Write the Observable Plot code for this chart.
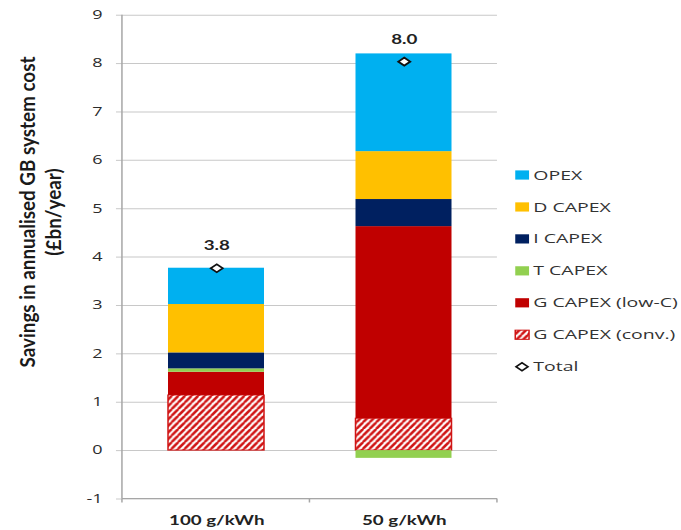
<!DOCTYPE html>
<html>
<head>
<meta charset="utf-8">
<script src="https://cdn.jsdelivr.net/npm/d3@7"></script>
<script src="https://cdn.jsdelivr.net/npm/@observablehq/plot@0.6"></script>
<style>
  html, body { margin: 0; padding: 0; background: #fff; }
  #chart svg { display: block; }
</style>
</head>
<body>
<div id="chart"></div>
<script>
// Scenarios (carbon intensity targets) on the x axis
const scenarios = ["100 g/kWh", "50 g/kWh"];

// Cost components, bottom of the stack first
const components = ["G CAPEX (conv.)", "G CAPEX (low-C)", "T CAPEX", "I CAPEX", "D CAPEX", "OPEX"];

// Annualised savings per component (£bn/year), one value per scenario
const gCapexConv = [1.14, 0.66];
const gCapexLowC = [0.48, 3.97];
const tCapex = [0.07, -0.16];
const iCapex = [0.33, 0.56];
const dCapex = [1.00, 0.99];
const opex = [0.75, 2.02];

// Y axis ticks
const yTicks = [-1, 0, 1, 2, 3, 4, 5, 6, 7, 8, 9];

// Legend entries, top to bottom
const legendLabels = ["OPEX", "D CAPEX", "I CAPEX", "T CAPEX", "G CAPEX (low-C)", "G CAPEX (conv.)", "Total"];

const seriesValues = [gCapexConv, gCapexLowC, tCapex, iCapex, dCapex, opex];
const hatchRed = "#d01515";
const fills = {
  "G CAPEX (conv.)": "url(#hatch-conv)",
  "G CAPEX (low-C)": "#C00000",
  "T CAPEX": "#92D050",
  "I CAPEX": "#002060",
  "D CAPEX": "#FFC000",
  "OPEX": "#00B0F0"
};

const data = scenarios.flatMap((scenario, i) =>
  components.map((component, j) => ({scenario, component, value: seriesValues[j][i]}))
);
const totals = scenarios.map((scenario, i) => ({
  scenario,
  total: d3.sum(seriesValues, s => s[i])
}));

// The chart is laid out on a narrower canvas and stretched sideways to the page width.
const pageWidth = 681, pageHeight = 530, stretch = 1.5;
const width = pageWidth / stretch, height = pageHeight;

const gridColor = "#c8c8c8";
const axisColor = "#a6a6a6";

// Diagonal hatch pattern for the conventional generation bar
function hatchDefs() {
  const w = 4.4, h = 6.6;
  const defs = d3.create("svg:defs");
  const p = defs.append("pattern")
    .attr("id", "hatch-conv")
    .attr("patternUnits", "userSpaceOnUse")
    .attr("width", w)
    .attr("height", h);
  p.append("rect").attr("width", w).attr("height", h).attr("fill", "#fff");
  p.append("path")
    .attr("d", `M${-w},${h}L0,0M0,${h}L${w},0M${w},${h}L${2 * w},0`)
    .attr("stroke", hatchRed)
    .attr("stroke-width", 2);
  return defs.node();
}

// Left axis line plus the category-boundary ticks under the bottom axis
function frameLines(index, scales, values, dims) {
  const left = dims.marginLeft, right = dims.width - dims.marginRight;
  const top = dims.marginTop, bottom = dims.height - dims.marginBottom;
  const g = d3.create("svg:g").attr("stroke", axisColor).attr("fill", "none");
  g.append("line").attr("x1", left).attr("x2", left).attr("y1", top).attr("y2", bottom);
  g.append("line").attr("x1", left).attr("x2", right).attr("y1", bottom).attr("y2", bottom);
  for (const x of [left, (left + right) / 2, right]) {
    g.append("line").attr("x1", x).attr("x2", x).attr("y1", bottom).attr("y2", bottom + 4);
  }
  return g.node();
}

const chart = Plot.plot({
  width,
  height,
  marginLeft: 81.3,
  marginRight: 122.7,
  marginTop: 14.7,
  marginBottom: 31.5,
  style: {fontFamily: "'Open Sans', sans-serif", background: "#fff"},
  x: {domain: scenarios, paddingInner: 0.49, paddingOuter: 0.245, label: null},
  y: {domain: [-1, 9], label: null},
  color: {type: "identity"},
  marks: [
    hatchDefs,
    Plot.ruleY(yTicks, {stroke: gridColor}),
    Plot.axisY({
      ticks: yTicks,
      tickFormat: d => String(d),
      tickSize: 4,
      tickPadding: 9.5,
      stroke: gridColor,
      fill: "#2b2b2b",
      fontSize: 12,
      label: null
    }),
    frameLines,
    Plot.barY(data, {
      x: "scenario",
      y: "value",
      fill: d => fills[d.component],
      stroke: d => d.component === "G CAPEX (conv.)" ? hatchRed : "none",
      strokeWidth: 1
    }),
    Plot.dot(totals, {
      x: "scenario",
      y: "total",
      symbol: "diamond2",
      r: 3.6,
      fill: "#fff",
      stroke: "#111",
      strokeWidth: 1.5
    }),
    Plot.text(totals, {
      x: "scenario",
      y: "total",
      text: d => d.total.toFixed(1),
      dy: -22,
      fontSize: 12.5,
      fontWeight: "bold",
      fontFamily: "Lato, sans-serif",
      fill: "#222"
    }),
    Plot.axisX({
      tickSize: 0,
      tickPadding: 17,
      fontSize: 12.5,
      fontWeight: "bold",
      fontFamily: "Lato, sans-serif",
      fill: "#222",
      label: null
    })
  ]
});

const svg = d3.select(chart);

// Y axis title (two centred lines), drawn slightly extended along its length
const title = svg.append("g")
  .attr("font-family", "Lato, sans-serif")
  .attr("font-weight", "bold")
  .attr("font-size", 14.5)
  .attr("fill", "#1a1a1a")
  .attr("text-anchor", "middle");
[["Savings in annualised GB system cost", 18], ["(£bn/year)", 35.5]].forEach(([t, x]) => {
  title.append("text")
    .attr("transform", `translate(${x},212) rotate(-90) scale(1.3,1)`)
    .attr("dy", "0.35em")
    .text(t);
});

// Legend
const legend = svg.append("g")
  .attr("font-family", "'Open Sans', sans-serif")
  .attr("font-size", 13)
  .attr("fill", "#333")
  .attr("text-anchor", "start");
legendLabels.forEach((label, i) => {
  const y = 175 + i * 31.95;
  const row = legend.append("g").attr("transform", `translate(0,${y})`);
  if (label === "Total") {
    row.append("path")
      .attr("d", d3.symbol(d3.symbolDiamond2, 40)())
      .attr("transform", "translate(348,0)")
      .attr("fill", "#fff")
      .attr("stroke", "#111")
      .attr("stroke-width", 1.4);
  } else {
    row.append("rect")
      .attr("x", 343.5).attr("y", -4.6)
      .attr("width", 9.2).attr("height", 9.2)
      .attr("fill", fills[label])
      .attr("stroke", label === "G CAPEX (conv.)" ? hatchRed : "none");
  }
  row.append("text").attr("x", 355.5).attr("dy", "0.35em").text(label);
});

// Stretch the drawing to the page width
chart.setAttribute("viewBox", `0 0 ${width} ${height}`);
chart.setAttribute("width", pageWidth);
chart.setAttribute("height", pageHeight);
chart.setAttribute("preserveAspectRatio", "none");
chart.style.width = pageWidth + "px";
chart.style.height = pageHeight + "px";
chart.style.maxWidth = "none";

document.getElementById("chart").append(chart);
</script>
</body>
</html>
